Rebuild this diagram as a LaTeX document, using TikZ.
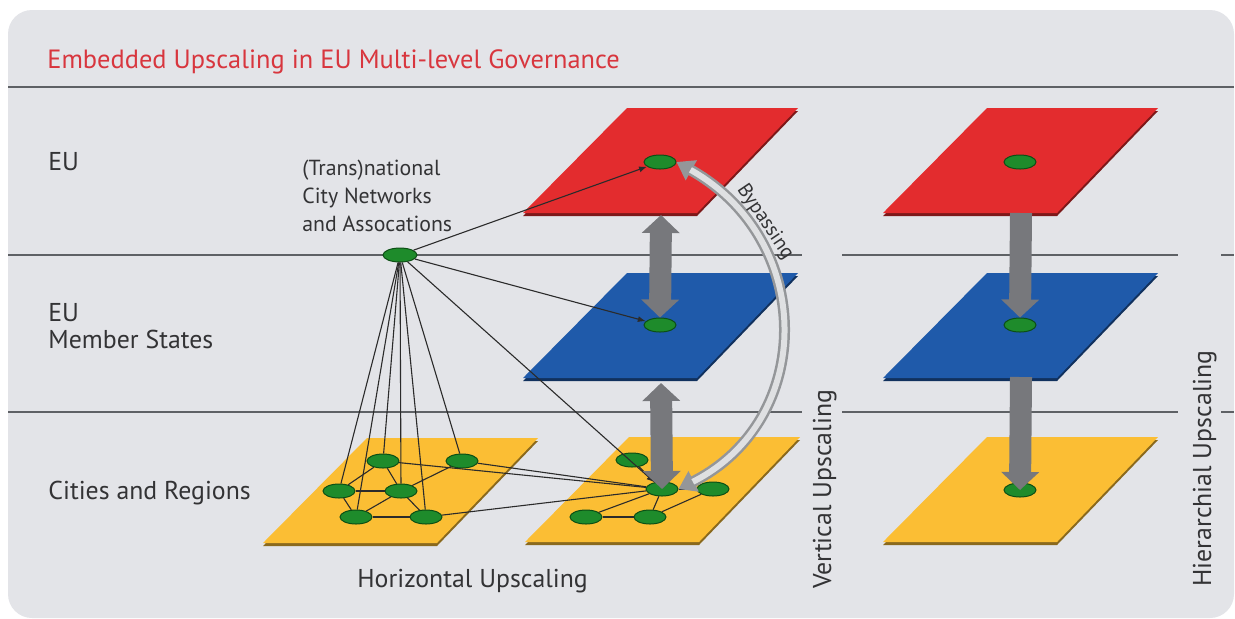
\documentclass[tikz,border=0pt]{standalone}
\usepackage{fontspec}
\setmainfont{PT Sans}
\usetikzlibrary{shapes.geometric,arrows.meta,calc}

\definecolor{panel}{HTML}{E3E4E8}
\definecolor{rule}{HTML}{5E6165}
\definecolor{planeRed}{HTML}{E32C2E}
\definecolor{planeBlue}{HTML}{1F5AAA}
\definecolor{planeYellow}{HTML}{FBBE34}
\definecolor{dotGreen}{HTML}{1E8B2B}
\definecolor{dotEdge}{HTML}{0C4F15}
\definecolor{bigArrow}{HTML}{77787C}
\definecolor{bypass}{HTML}{B9BBBF}
\definecolor{txt}{HTML}{333335}
\definecolor{titleRed}{HTML}{D8363E}
\definecolor{wire}{HTML}{2B2B2B}

% one governance level drawn as a flat parallelogram with a darker lower rim
% #1 = x of the lower left corner, #2 = y of the upper edge, #3 = colour
\newcommand\govlayer[3]{%
  \fill[#3!55!black] (#1,#2+108) -- (#1+174,#2+108) -- (#1+275,#2+3) -- (#1+104,#2+3) -- cycle;
  \fill[#3] (#1,#2+105) -- (#1+174,#2+105) -- (#1+275,#2) -- (#1+104,#2) -- cycle;
}

\tikzset{
  dot/.style={ellipse, fill=dotGreen, draw=dotEdge, line width=0.5pt,
    minimum width=16pt, minimum height=7pt, inner sep=0pt},
  levelrule/.style={draw=rule, line width=1pt},
  wireline/.style={draw=wire, line width=0.55pt},
  wirearrow/.style={wireline, -{Latex[length=4pt,width=3pt]}},
  thick2/.style={draw=bigArrow, line width=11pt,
    {Triangle[length=9pt,width=18.5pt]}-{Triangle[length=9pt,width=18.5pt]}},
  thick1/.style={draw=bigArrow, line width=11pt, -{Triangle[length=9pt,width=18.5pt]}},
  lbl/.style={text=txt, font=\fontsize{12.9}{13.5}\selectfont, inner sep=0pt, align=left},
  small/.style={text=txt, font=\fontsize{10.9}{14}\selectfont, inner sep=0pt, align=left},
}

\begin{document}
\begin{tikzpicture}[x=0.5pt,y=-0.5pt]
\useasboundingbox (0,0) rectangle (1235,618);
\fill[white] (0,0) rectangle (1235,618);
\fill[panel, rounded corners=12pt] (8,10) rectangle (1234,618);

% level separators
\draw[levelrule, line width=1.3pt] (8,87) -- (1234,87);
\foreach \y in {255,412}{
  \draw[levelrule] (8,\y) -- (802,\y);
  \draw[levelrule] (842,\y) -- (1178,\y);
  \draw[levelrule] (1221,\y) -- (1234,\y);
}

% levels
\govlayer{523}{108}{planeRed}
\govlayer{523}{273}{planeBlue}
\govlayer{525}{437}{planeYellow}
\govlayer{263}{438}{planeYellow}
\govlayer{883}{108}{planeRed}
\govlayer{883}{273}{planeBlue}
\govlayer{883}{437}{planeYellow}

% anchor points under the upper levels
\coordinate (redMbot) at (661,215);
\coordinate (blueMbot) at (661,383);
\coordinate (redRbot) at (1021,213);
\coordinate (blueRbot) at (1021,377);

% actors
\node[dot, minimum width=17pt] (net) at (400,255) {};
\node[dot] (euM) at (660,162) {};
\node[dot] (msM) at (660,325) {};
\node[dot] (euR) at (1020,162) {};
\node[dot] (msR) at (1020,325) {};
\node[dot] (cityR) at (1020,490) {};

\node[dot] (a) at (383,461) {};
\node[dot] (b) at (462,461) {};
\node[dot] (c) at (339,491) {};
\node[dot] (d) at (401,491) {};
\node[dot] (e) at (356,517) {};
\node[dot] (f) at (426,517) {};

\node[dot] (g) at (632,460) {};
\node[dot] (h) at (662,489) {};
\node[dot] (i) at (713,489) {};
\node[dot] (j) at (586,517) {};
\node[dot] (k) at (650,517) {};

% network membership
\foreach \m in {a,b,c,d,e,f}
  \draw[wireline] (net) -- (\m);
\draw[wirearrow] (net) -- (euM);
\draw[wirearrow] (net) -- (msM);
\draw[wirearrow] (net) -- (h);

% links between cities
\foreach \p/\q in {a/c,a/d,b/d,c/d,c/e,d/e,d/f,e/f,a/h,b/h,f/h,g/h,h/i,h/j,h/k,j/k,k/i}
  \draw[wireline] (\p) -- (\q);

% vertical upscaling
\draw[thick2] (redMbot) -- (msM.north);
\draw[thick2] (blueMbot) -- (h.center);

% hierarchical upscaling
\draw[thick1] (redRbot) -- (msR.north);
\draw[thick1] (blueRbot) -- (cityR.center);

% bypassing the member states
\draw[draw=bypass!80!black, line width=5.5pt,
      {Triangle[length=8.5pt,width=11pt]}-{Triangle[length=8.5pt,width=11pt]}]
  (h.east) .. controls +(137,-69) and +(139,78) .. (euM.east);
\draw[draw=bypass!45!white, line width=3pt, shorten <=8pt, shorten >=8pt]
  (h.east) .. controls +(137,-69) and +(139,78) .. (euM.east);
\node[text=txt, inner sep=0pt, rotate=-56, font=\fontsize{10}{11}\selectfont]
  (bypassLbl) at (765,222) {Bypassing};

% texts
\node[anchor=base west, inner sep=0pt, text=titleRed, font=\fontsize{13.2}{14}\selectfont]
  (title) at (47,68) {Embedded Upscaling in EU Multi-level Governance};
\node[lbl, anchor=base west] (tEU) at (48,170) {EU};
\node[lbl, anchor=north west] (tMS) at (48,303) {EU\\Member States};
\node[lbl, anchor=base west] (tCR) at (48,499) {Cities and Regions};
\node[small, anchor=north west] (tNet) at (302,160) {(Trans)national\\City Networks\\and Assocations};
\node[lbl, anchor=base west] (tHor) at (357,587) {Horizontal Upscaling};
\node[lbl, anchor=base west, rotate=90] (tVer) at (831,589) {Vertical Upscaling};
\node[lbl, anchor=base west, rotate=90] (tHie) at (1211,587) {Hierarchial Upscaling};
\end{tikzpicture}
\end{document}
